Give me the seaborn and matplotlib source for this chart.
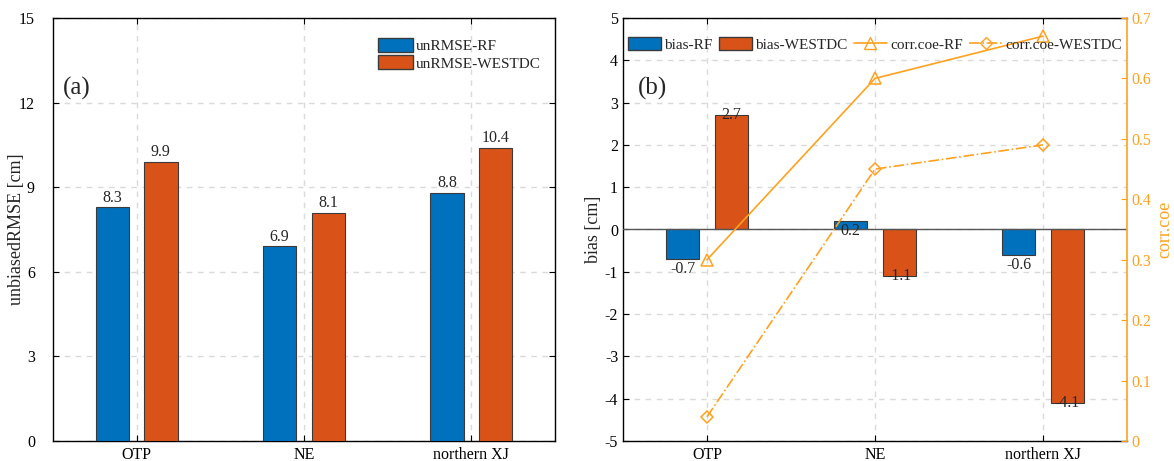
import numpy as np
import pandas as pd
import matplotlib
matplotlib.use("Agg")
import matplotlib.pyplot as plt
import seaborn as sns
from matplotlib.patches import Patch
from matplotlib.lines import Line2D

# ---- data ----
regions = ["OTP", "NE", "northern XJ"]
unrmse_rf = [8.3, 6.9, 8.8]
unrmse_westdc = [9.9, 8.1, 10.4]
bias_rf = [-0.7, 0.2, -0.6]
bias_westdc = [2.7, -1.1, -4.1]
corr_rf = [0.30, 0.60, 0.67]
corr_westdc = [0.04, 0.45, 0.49]
left_yticks = [0, 3, 6, 9, 12, 15]
bias_yticks = [-5, -4, -3, -2, -1, 0, 1, 2, 3, 4, 5]
corr_yticks = [0, 0.1, 0.2, 0.3, 0.4, 0.5, 0.6, 0.7]

# ---- style ----
sns.set_style("ticks")
plt.rcParams["font.family"] = ["Liberation Serif", "DejaVu Serif"]
plt.rcParams["axes.unicode_minus"] = False
plt.rcParams["xtick.direction"] = "in"
plt.rcParams["ytick.direction"] = "in"

BLUE = "#0072BD"
RED = "#D95319"
ORANGE = "#FFA11F"
EDGE = "#3a3a3a"
GRID = "#dadada"
FS = 11.5
LEGFS = 11
LFS = 13

fig = plt.figure(figsize=(11.74, 4.61), dpi=100)
ax1 = fig.add_axes([53/1174, 20/461, (555-53)/1174, (441-18)/461])
ax2 = fig.add_axes([623/1174, 20/461, (1127-623)/1174, (441-18)/461])

df1 = pd.DataFrame({
    "region": regions * 2,
    "val": unrmse_rf + unrmse_westdc,
    "src": ["unRMSE-RF"] * 3 + ["unRMSE-WESTDC"] * 3,
})
df2 = pd.DataFrame({
    "region": regions * 2,
    "val": bias_rf + bias_westdc,
    "src": ["bias-RF"] * 3 + ["bias-WESTDC"] * 3,
})

for ax, df in ((ax1, df1), (ax2, df2)):
    sns.barplot(data=df, x="region", y="val", hue="src", order=regions,
                palette=[BLUE, RED], width=0.58, gap=0.31, ax=ax,
                edgecolor=EDGE, linewidth=0.8, saturation=1, legend=False,
                errorbar=None, zorder=3)
    ax.set_xlim(-0.5, 2.5)
    ax.set_xlabel("")
    ax.grid(True, linestyle=(0, (4, 4)), color=GRID, linewidth=1, zorder=0)
    ax.set_axisbelow(True)
    ax.tick_params(axis="both", labelsize=FS, length=4, width=0.8,
                   top=True, right=True, colors="black")
    ax.tick_params(axis="x", pad=4)
    for s in ax.spines.values():
        s.set_color("black")
        s.set_linewidth(1.0)

# ---- panel a ----
ax1.set_ylim(0, 15)
ax1.set_yticks(left_yticks)
ax1.tick_params(axis="y", pad=13)
ax1.set_ylabel("unbiasedRMSE [cm]", fontsize=LFS)
ax1.yaxis.set_label_coords(-0.056, 0.5)
for cont in ax1.containers:
    for p in cont:
        h = p.get_y() + p.get_height()
        ax1.text(p.get_x() + p.get_width() / 2, h + 0.05, f"{h:.1f}",
                 ha="center", va="bottom", fontsize=FS)
ax1.text(0.02, 0.82, "(a)", transform=ax1.transAxes, fontsize=18)
ax1.legend(handles=[Patch(facecolor=BLUE, edgecolor=EDGE, label="unRMSE-RF"),
                    Patch(facecolor=RED, edgecolor=EDGE, label="unRMSE-WESTDC")],
           loc="upper right", bbox_to_anchor=(0.998, 0.985), frameon=False,
           fontsize=LEGFS, handlelength=2.3, handleheight=1.0, handletextpad=0.15,
           labelspacing=0.15, borderpad=0.4)

# ---- panel b ----
ax2.set_ylim(-5, 5)
ax2.set_yticks(bias_yticks)
ax2.set_ylabel("bias [cm]", fontsize=LFS, labelpad=2)
ax2.axhline(0, color="#555555", linewidth=1.0, zorder=4)
ax2.text(0.03, 0.82, "(b)", transform=ax2.transAxes, fontsize=18)
ax2.tick_params(axis="y", right=False)
ax2.spines["right"].set_visible(False)

va_by_series = ["top", "center"]
for cont, va in zip(ax2.containers, va_by_series):
    for p in cont:
        v = p.get_y() + p.get_height()
        y = v if va == "center" else v - 0.05
        ax2.text(p.get_x() + p.get_width() / 2, y, f"{v:.1f}",
                 ha="center", va=va, fontsize=FS, zorder=6)

ax3 = ax2.twinx()
df_c = pd.DataFrame({"region": regions, "rf": corr_rf, "wd": corr_westdc})
sns.lineplot(data=df_c, x="region", y="rf", ax=ax3, color=ORANGE, lw=1.2,
             marker="^", markersize=8, markerfacecolor="none",
             markeredgecolor=ORANGE, markeredgewidth=1.1, sort=False, zorder=5)
sns.lineplot(data=df_c, x="region", y="wd", ax=ax3, color=ORANGE, lw=1.2,
             linestyle="-.", marker="D", markersize=6.5, markerfacecolor="none",
             markeredgecolor=ORANGE, markeredgewidth=1.1, sort=False, zorder=5)
ax3.set_ylim(0, 0.7)
ax3.set_yticks(corr_yticks)
ax3.set_yticklabels(["0"] + [f"{t:.1f}" for t in corr_yticks[1:]])
ax3.set_ylabel("corr.coe", color=ORANGE, fontsize=LFS, labelpad=3)
ax3.tick_params(axis="y", colors=ORANGE, labelsize=FS, direction="in",
                length=4, width=0.8)
ax3.spines["right"].set_color(ORANGE)
ax3.spines["right"].set_linewidth(1.2)
for s in ("left", "top", "bottom"):
    ax3.spines[s].set_visible(False)
ax3.set_xlim(-0.5, 2.5)

handles = [Patch(facecolor=BLUE, edgecolor=EDGE, label="bias-RF"),
           Patch(facecolor=RED, edgecolor=EDGE, label="bias-WESTDC"),
           Line2D([], [], color=ORANGE, lw=1.2, marker="^", markersize=8,
                  markerfacecolor="none", label="corr.coe-RF"),
           Line2D([], [], color=ORANGE, lw=1.2, linestyle="-.", marker="D",
                  markersize=6.5, markerfacecolor="none", label="corr.coe-WESTDC")]
ax3.legend(handles=handles, loc="upper center", bbox_to_anchor=(0.5, 0.985),
           ncol=4, frameon=False, fontsize=LEGFS, handlelength=2.2,
           handleheight=1.0, handletextpad=0.2, columnspacing=0.4,
           borderpad=0.3)

fig.savefig("out.png", dpi=100)
